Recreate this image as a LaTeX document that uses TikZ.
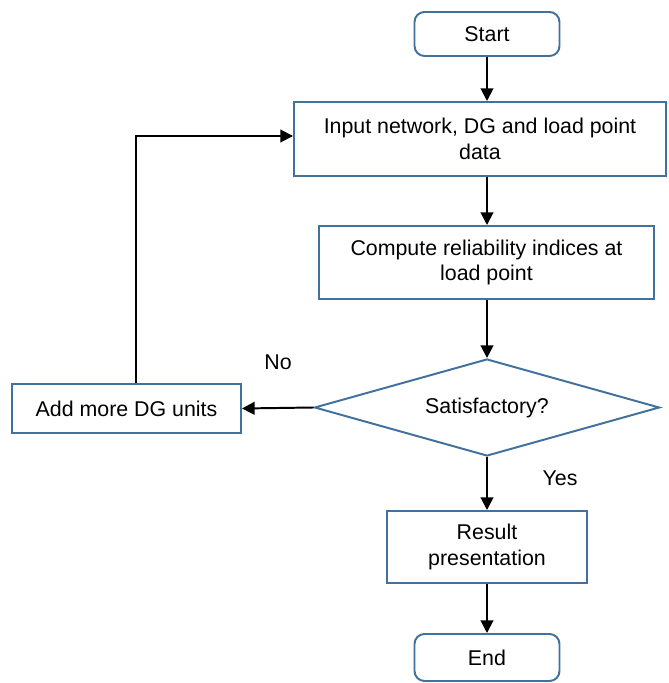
\documentclass[tikz,border=0pt]{standalone}
\usepackage{fontspec}
\setmainfont{Liberation Sans}
\usetikzlibrary{shapes.geometric,arrows.meta}
\definecolor{boxblue}{RGB}{65,113,156}

\begin{document}
\begin{tikzpicture}[
    font=\fontsize{15.2}{18}\selectfont,
    box/.style={draw=boxblue, line width=1.4pt, fill=white, align=center, inner sep=2pt},
    terminal/.style={box, rounded corners=0.25cm},
    decision/.style={draw=boxblue, line width=1.4pt, diamond, aspect=3.5, inner sep=0pt},
    flow/.style={-{Triangle[length=9pt,width=9pt]}, line width=1.4pt, black}
]

%frame
\useasboundingbox (0,0) rectangle (16.7,17.075);

%Start and input
\node[terminal, minimum width=3.625cm, minimum height=1.1cm] (start) at (12.175,16.225) {Start};
\node[box, minimum width=9.3cm, minimum height=1.85cm] (input) at (12.0,13.6) {Input network, DG and load point\\data};

%Reliability calculation
\node[box, minimum width=8.375cm, minimum height=1.825cm] (compute) at (12.1625,10.5125) {Compute reliability indices at\\load point};

%Check
\node[decision, minimum width=8.625cm, minimum height=2.425cm] (check) at (12.175,6.8875) {Satisfactory?};
\node[box, minimum width=5.725cm, minimum height=1.225cm] (add) at (3.1625,6.8625) {Add more DG units};

%Result and end
\node[box, minimum width=5cm, minimum height=1.8cm] (result) at (12.175,3.4) {Result\\presentation};
\node[terminal, minimum width=3.625cm, minimum height=1.175cm] (end) at (12.175,0.6375) {End};

%Labels
\node (no) at (6.95,8.025) {No};
\node (yes) at (14.0,5.125) {Yes};

%Arrows down the middle
\draw[flow] (start.south) -- (start |- input.north);
\draw[flow] (start |- input.south) -- (start |- compute.north);
\draw[flow] (start |- compute.south) -- (check.north);
\draw[flow] (check.south) -- (result.north);
\draw[flow] (result.south) -- (end.north);

%No branch and loop back
\draw[flow] (check.west) -- (add.east);
\coordinate (loop) at (3.4,13.675);
\draw[flow] (add.north -| loop) -- (loop) -- (input.west |- loop);

\end{tikzpicture}
\end{document}
